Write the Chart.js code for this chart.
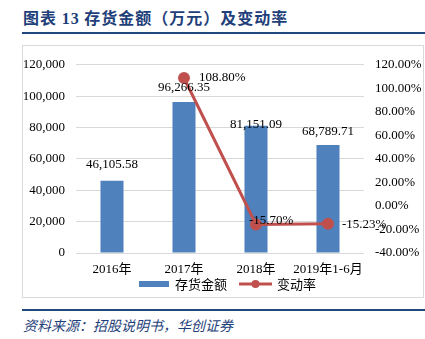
<!DOCTYPE html>
<html>
<head>
<meta charset="utf-8">
<script src="https://cdn.jsdelivr.net/npm/chart.js@4.4.1/dist/chart.umd.min.js"></script>
<style>
  body { margin: 0; width: 425px; height: 339px; background: #fff; position: relative; overflow: hidden; }
  .title { position: absolute; left: 23px; top: 8px; font: bold 16px/18px "Noto Sans CJK SC", "Liberation Serif", serif; letter-spacing: 1px; color: #1f3f7a; white-space: nowrap; }
  .title .num { font-family: "Liberation Serif", serif; }
  .rule { position: absolute; left: 22px; width: 403px; height: 2px; background: #1f497d; }
  .box { position: absolute; left: 22px; top: 45px; width: 402px; height: 253px; box-sizing: border-box; border: 1px solid #d9d9d9; }
  .box canvas { display: block; }
  .source { position: absolute; left: 23px; top: 316px; font: italic 14px/18px "Noto Sans CJK SC", serif; color: #1f3f7a; white-space: nowrap; }
</style>
</head>
<body>
<div class="title">图表 <span class="num">13</span> 存货金额（万元）及变动率</div>
<div class="rule" style="top:32px"></div>
<div class="box"><canvas id="invChart" width="400" height="251"></canvas></div>
<div class="rule" style="top:309px"></div>
<div class="source">资料来源：招股说明书，华创证券</div>
<script>
// 存货金额（万元）及变动率
const categories = ['2016年', '2017年', '2018年', '2019年1-6月'];
const inventory = [46105.58, 96266.35, 81151.09, 68789.71];
const changeRate = [null, 108.80, -15.70, -15.23];
const leftTicks = [0, 20000, 40000, 60000, 80000, 100000, 120000];
const rightTicks = [-40, -20, 0, 20, 40, 60, 80, 100, 120];

const BAR_COLOR = '#4f81bd';
const LINE_COLOR = '#c0504d';
const NUM_FONT = '13px "Liberation Serif", "Times New Roman", serif';
const CJK_FONT = '13px "Noto Sans CJK SC", sans-serif';

// label nudges (px) so they sit like the original layout
const barLabelDy = [-16, -14, -1, -14];
const lineLabelDx = [0, 15, -7, 14];
const lineLabelDy = [0, 0, -4, 1];

const labelsPlugin = {
    id: 'valueLabels',
    afterDatasetsDraw(chart) {
        const ctx = chart.ctx;
        ctx.save();
        ctx.font = NUM_FONT;
        ctx.fillStyle = '#000';
        ctx.textBaseline = 'middle';

        // bar values
        ctx.textAlign = 'center';
        chart.getDatasetMeta(0).data.forEach((el, i) => {
            const txt = inventory[i].toLocaleString('en-US', { minimumFractionDigits: 2, maximumFractionDigits: 2 });
            ctx.fillText(txt, el.x, el.y + barLabelDy[i]);
        });

        // change rate values
        ctx.textAlign = 'left';
        chart.getDatasetMeta(1).data.forEach((el, i) => {
            if (changeRate[i] == null) return;
            ctx.fillText(changeRate[i].toFixed(2) + '%', el.x + lineLabelDx[i], el.y + lineLabelDy[i]);
        });

        // legend
        const ly = 238;
        ctx.fillStyle = BAR_COLOR;
        ctx.fillRect(116, ly - 3, 30, 6);
        ctx.font = CJK_FONT;
        ctx.fillStyle = '#000';
        ctx.fillText('存货金额', 152, ly);

        ctx.strokeStyle = LINE_COLOR;
        ctx.lineWidth = 3;
        ctx.beginPath();
        ctx.moveTo(216, ly);
        ctx.lineTo(249, ly);
        ctx.stroke();
        ctx.fillStyle = LINE_COLOR;
        ctx.beginPath();
        ctx.arc(232.5, ly, 4, 0, Math.PI * 2);
        ctx.fill();
        ctx.fillStyle = '#000';
        ctx.fillText('变动率', 254, ly);
        ctx.restore();
    }
};

new Chart(document.getElementById('invChart').getContext('2d'), {
    type: 'bar',
    data: {
        labels: categories,
        datasets: [{
            type: 'bar',
            label: '存货金额',
            data: inventory,
            backgroundColor: BAR_COLOR,
            barPercentage: 0.32,
            categoryPercentage: 1.0,
            yAxisID: 'y',
            order: 2
        }, {
            type: 'line',
            label: '变动率',
            data: changeRate,
            borderColor: LINE_COLOR,
            backgroundColor: LINE_COLOR,
            borderWidth: 3,
            pointRadius: 4.5,
            pointHoverRadius: 4.5,
            tension: 0,
            yAxisID: 'y1',
            order: 1
        }]
    },
    options: {
        responsive: false,
        animation: false,
        layout: { padding: { top: 8, bottom: 14, left: 0, right: 0 } },
        plugins: {
            legend: { display: false },
            tooltip: { enabled: false }
        },
        scales: {
            x: {
                grid: { display: false },
                border: { display: false },
                ticks: {
                    color: '#000',
                    font: { family: '"Liberation Serif", "Noto Sans CJK SC", serif', size: 13 },
                    padding: 1,
                    autoSkip: false,
                    maxRotation: 0,
                    minRotation: 0
                },
                afterFit: s => { s.height = 30; }
            },
            y: {
                position: 'left',
                min: 0,
                max: 120000,
                afterBuildTicks: s => { s.ticks = leftTicks.map(v => ({ value: v })); },
                grid: { color: '#d9d9d9', drawTicks: false },
                border: { display: false },
                ticks: {
                    color: '#000',
                    font: { family: '"Liberation Serif", serif', size: 13 },
                    padding: 11,
                    callback: v => v.toLocaleString('en-US')
                },
                afterFit: s => { s.width = 53; }
            },
            y1: {
                position: 'right',
                min: -40,
                max: 120,
                afterBuildTicks: s => { s.ticks = rightTicks.map(v => ({ value: v })); },
                grid: { display: false, drawTicks: false },
                border: { display: false },
                ticks: {
                    color: '#000',
                    font: { family: '"Liberation Serif", serif', size: 13 },
                    padding: 11,
                    callback: v => v.toFixed(2) + '%'
                },
                afterFit: s => { s.width = 59; }
            }
        }
    },
    plugins: [labelsPlugin]
});
</script>
</body>
</html>
